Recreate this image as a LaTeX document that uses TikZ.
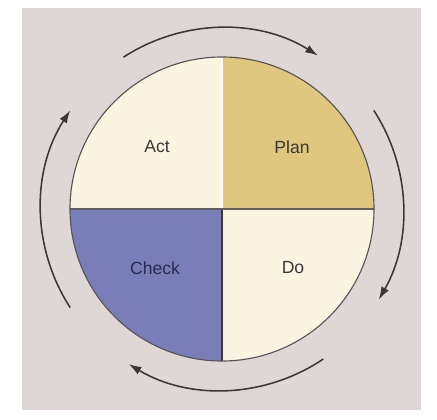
\documentclass[tikz,border=0pt]{standalone}
\usepackage{fontspec}
\setmainfont{Liberation Sans}
\usepackage{tikz}
\usetikzlibrary{arrows.meta}
\usepackage{xcolor}
\definecolor{bgpink}{RGB}{222,215,214}
\definecolor{cream}{RGB}{251,244,224}
\definecolor{tan}{RGB}{224,199,126}
\definecolor{periwinkle}{RGB}{122,126,184}
\definecolor{inkgray}{RGB}{58,54,58}
\definecolor{navy}{RGB}{40,42,80}

\begin{document}
\begin{tikzpicture}[
  quadtext/.style={font=\fontsize{12.5}{15}\selectfont, text=inkgray},
  turnarrow/.style={-{Latex[length=9pt,width=6pt]}, inkgray, line width=1.1pt}]
  \useasboundingbox (-5.55,-5.25) rectangle (5.375,5.225);
  \fill[bgpink] (-5,-5.025) rectangle (4.975,5.025);
  % four quarters of the wheel
  \fill[cream] (0,0) -- (180:3.8) arc[start angle=180, end angle=90, radius=3.8] -- cycle;
  \fill[tan] (0,0) -- (90:3.8) arc[start angle=90, end angle=0, radius=3.8] -- cycle;
  \fill[cream] (0,0) -- (0:3.8) arc[start angle=0, end angle=-90, radius=3.8] -- cycle;
  \fill[periwinkle] (0,0) -- (270:3.8) arc[start angle=270, end angle=180, radius=3.8] -- cycle;
  % outline and dividers
  \draw[white!90!cream, line width=2pt] (0,0) -- (0,3.8);
  \draw[inkgray, line width=1.4pt] (0,0) -- (0,-3.8);
  \draw[inkgray!80, line width=1.2pt] (-3.8,0) -- (3.8,0);
  \draw[inkgray!85, line width=0.8pt] (0,0) circle (3.8);
  % labels
  \node[quadtext] (act) at (-1.625,1.55) {Act};
  \node[quadtext] (plan) at (1.75,1.55) {Plan};
  \node[quadtext, text=navy] (check) at (-1.675,-1.475) {Check};
  \node[quadtext] (do) at (1.775,-1.475) {Do};
  % clockwise arrows round the wheel
  \draw[turnarrow] (123:4.525) arc[start angle=123, end angle=58, radius=4.525];
  \draw[turnarrow] (33:4.525) arc[start angle=33, end angle=-30, radius=4.525];
  \draw[turnarrow] (-56:4.525) arc[start angle=-56, end angle=-121, radius=4.525];
  \draw[turnarrow] (-147:4.525) arc[start angle=-147, end angle=-213, radius=4.525];
\end{tikzpicture}
\end{document}
